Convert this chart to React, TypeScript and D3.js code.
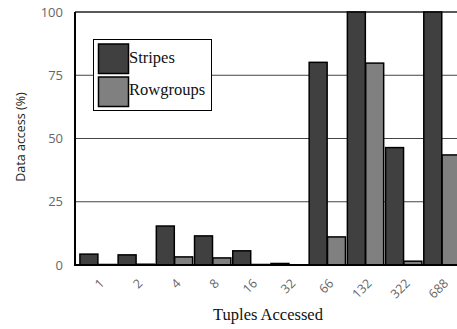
import React, { useRef, useEffect } from "react";
import * as d3 from "d3";

const categories = ["1", "2", "4", "8", "16", "32", "66", "132", "322", "688"];
const seriesNames = ["Stripes", "Rowgroups"];
const stripes = [4.3, 4.0, 15.4, 11.5, 5.6, 0.6, 80.1, 100, 46.4, 100];
const rowgroups = [0.2, 0.3, 3.2, 2.8, 0.2, 0.1, 11.1, 79.8, 1.5, 43.5];
const yTicks = [0, 25, 50, 75, 100];
const colors = ["#404040", "#808080"];

const width = 457;
const height = 329;

const App = () => {
  const svgRef = useRef<SVGSVGElement>(null);

  useEffect(() => {
    const svg = d3.select(svgRef.current);
    svg.selectAll("*").remove();

    const left = 75;
    const top = 12;
    const bottom = 265;

    const x0 = d3
      .scaleBand()
      .domain(categories)
      .range([78, 462])
      .paddingInner(0.05)
      .paddingOuter(0.05);

    const x1 = d3
      .scaleBand()
      .domain(seriesNames)
      .range([0, x0.bandwidth()])
      .paddingInner(0.02);

    const y = d3.scaleLinear().domain([0, 100]).range([bottom, top]);

    // gridlines
    svg
      .append("g")
      .selectAll("line")
      .data(yTicks.filter((t) => t > 0))
      .join("line")
      .attr("x1", left)
      .attr("x2", width)
      .attr("y1", (d) => y(d))
      .attr("y2", (d) => y(d))
      .attr("stroke", (d) => (d === 100 ? "#222" : "#444"))
      .attr("stroke-width", (d) => (d === 100 ? 1.3 : 1));

    // y tick labels
    svg
      .append("g")
      .selectAll("text")
      .data(yTicks)
      .join("text")
      .attr("x", 63)
      .attr("y", (d) => y(d))
      .attr("dy", "0.35em")
      .attr("text-anchor", "end")
      .attr("font-family", "Open Sans")
      .attr("font-size", 13)
      .attr("fill", "#666")
      .text((d) => d);

    // bars
    const data = categories.map((c, i) => ({
      cat: c,
      values: [
        { name: seriesNames[0], v: stripes[i], color: colors[0] },
        { name: seriesNames[1], v: rowgroups[i], color: colors[1] },
      ],
    }));

    svg
      .append("g")
      .selectAll("g")
      .data(data)
      .join("g")
      .attr("transform", (d) => `translate(${x0(d.cat)},0)`)
      .selectAll("rect")
      .data((d) => d.values)
      .join("rect")
      .attr("x", (d) => x1(d.name)!)
      .attr("width", x1.bandwidth())
      .attr("y", (d) => y(d.v))
      .attr("height", (d) => bottom - y(d.v))
      .attr("fill", (d) => d.color)
      .attr("stroke", "#000")
      .attr("stroke-width", 1.5);

    // axes lines
    svg
      .append("line")
      .attr("x1", left)
      .attr("x2", left)
      .attr("y1", top)
      .attr("y2", bottom)
      .attr("stroke", "#000")
      .attr("stroke-width", 2);
    svg
      .append("line")
      .attr("x1", left - 1)
      .attr("x2", width)
      .attr("y1", bottom)
      .attr("y2", bottom)
      .attr("stroke", "#000")
      .attr("stroke-width", 2);

    // x tick labels
    svg
      .append("g")
      .selectAll("text")
      .data(categories)
      .join("text")
      .attr(
        "transform",
        (d) => `translate(${x0(d)! + x0.bandwidth() / 2 + 4},${281}) rotate(-45)`
      )
      .attr("text-anchor", "end")
      .attr("dy", "0.35em")
      .attr("font-family", "Open Sans")
      .attr("font-size", 12.5)
      .attr("fill", "#666")
      .text((d) => d);

    // axis titles
    svg
      .append("text")
      .attr("x", 268)
      .attr("y", 320)
      .attr("text-anchor", "middle")
      .attr("font-family", "Liberation Serif")
      .attr("font-size", 16.5)
      .attr("fill", "#111")
      .text("Tuples Accessed");

    svg
      .append("text")
      .attr("transform", `translate(25,${137}) rotate(-90)`)
      .attr("text-anchor", "middle")
      .attr("font-family", "Open Sans")
      .attr("font-size", 12.5)
      .attr("fill", "#222")
      .text("Data access (%)");

    // legend
    const legend = svg.append("g");
    legend
      .append("rect")
      .attr("x", 93.5)
      .attr("y", 39.5)
      .attr("width", 118)
      .attr("height", 71)
      .attr("fill", "#fff")
      .attr("stroke", "#000")
      .attr("stroke-width", 1);
    seriesNames.forEach((name, i) => {
      legend
        .append("rect")
        .attr("x", 98.5)
        .attr("y", 44 + i * 33)
        .attr("width", 30)
        .attr("height", 29.5)
        .attr("fill", colors[i])
        .attr("stroke", "#000")
        .attr("stroke-width", 1.5);
      legend
        .append("text")
        .attr("x", 129)
        .attr("y", 63 + i * 32)
        .attr("font-family", "Liberation Serif")
        .attr("font-size", 16.5)
        .attr("fill", "#111")
        .text(name);
    });
  }, []);

  return (
    <svg
      ref={svgRef}
      width={width}
      height={height}
      style={{ position: "absolute", left: 0, top: 0, background: "#fff" }}
    />
  );
};

export default App;
